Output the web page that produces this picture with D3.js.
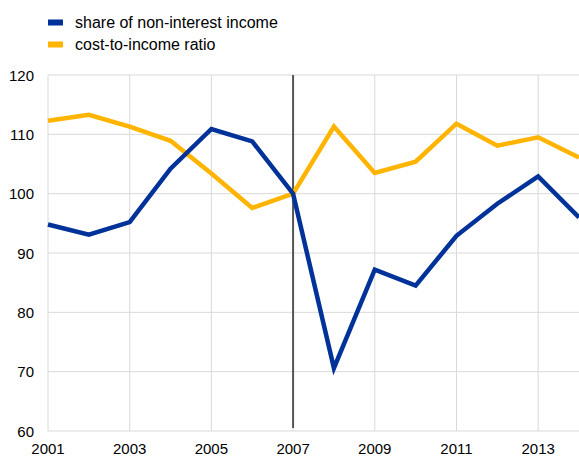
<!DOCTYPE html>
<html><head><meta charset="utf-8">
<script src="https://cdn.jsdelivr.net/npm/d3@7"></script>
<style>body{margin:0;background:#fff;}text{font-family:"Liberation Sans",Arial,sans-serif;}</style>
</head><body>
<svg id="c" width="579" height="456"></svg>
<script>
const years = [2001,2002,2003,2004,2005,2006,2007,2008,2009,2010,2011,2012,2013,2014];
const nonInterest = [94.8,93.1,95.2,104.2,110.9,108.8,100,70.6,87.2,84.5,92.9,98.3,102.9,96.0];
const costIncome = [112.3,113.3,111.3,108.9,103.4,97.6,100,111.3,103.5,105.4,111.8,108.1,109.5,106.1];
const xTicks = [2001,2003,2005,2007,2009,2011,2013];
const yTicks = [60,70,80,90,100,110,120];
const seriesNames = ["share of non-interest income","cost-to-income ratio"];
const colors = ["#003299","#ffb400"];
const markerYear = 2007;

const svg = d3.select("#c");
const L=48, R=579, T=75, B=431;
const x = d3.scaleLinear().domain([2001,2014]).range([L,R]);
const y = d3.scaleLinear().domain([60,120]).range([B,T]);

const g = svg.append("g");
g.selectAll(".hg").data(yTicks).join("line")
  .attr("x1",L).attr("x2",R).attr("y1",d=>y(d)).attr("y2",d=>y(d))
  .attr("stroke","#d9d9d9").attr("stroke-width",1);
g.selectAll(".vg").data(xTicks).join("line")
  .attr("x1",d=>x(d)).attr("x2",d=>x(d)).attr("y1",T).attr("y2",B)
  .attr("stroke","#d9d9d9").attr("stroke-width",1);

g.selectAll(".yl").data(yTicks).join("text")
  .attr("x",34).attr("y",d=>y(d)+5.5).attr("text-anchor","end")
  .attr("font-size",15).attr("fill","#000").text(d=>d);
g.selectAll(".xl").data(xTicks).join("text")
  .attr("x",d=>x(d)).attr("y",454).attr("text-anchor","middle")
  .attr("font-size",15).attr("fill","#000").text(d=>d);

g.append("line").attr("x1",x(markerYear)).attr("x2",x(markerYear))
  .attr("y1",T).attr("y2",B-3).attr("stroke","#555").attr("stroke-width",2);

const line = d3.line().x((d,i)=>x(years[i])).y(d=>y(d));
[costIncome, nonInterest].forEach((s,k)=>{
  g.append("path").datum(s).attr("d",line).attr("fill","none")
   .attr("stroke",k===0?colors[1]:colors[0]).attr("stroke-width",4.5)
   .attr("stroke-linejoin","miter");
});

seriesNames.forEach((n,i)=>{
  svg.append("rect").attr("x",48).attr("y",19.5+i*22).attr("width",15).attr("height",6).attr("fill",colors[i]);
  svg.append("text").attr("x",75).attr("y",28+i*22).attr("font-size",16).attr("fill","#000").text(n);
});
</script>
</body></html>
